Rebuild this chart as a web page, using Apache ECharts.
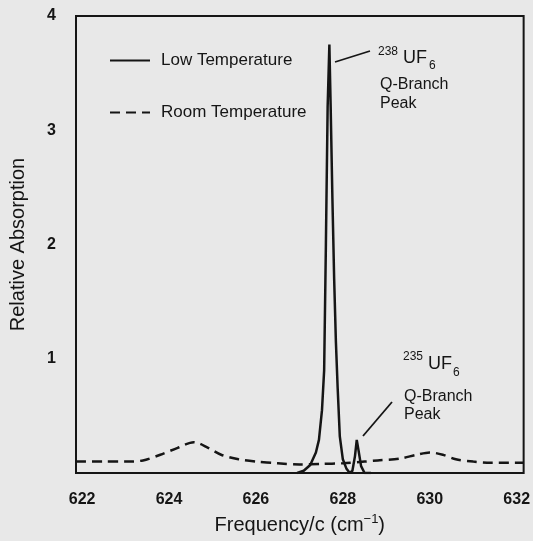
<!DOCTYPE html>
<html>
<head>
<meta charset="utf-8">
<script src="https://cdn.jsdelivr.net/npm/echarts@6/dist/echarts.min.js"></script>
<style>
  html, body { margin: 0; padding: 0; background: #e8e8e8; }
  #chart { width: 533px; height: 541px; }
</style>
</head>
<body>
<div id="chart"></div>
<script>
  // low temperature trace: frequency (cm-1) and relative absorption
  var lowFreq = [626.95, 627.1, 627.25, 627.38, 627.45, 627.52, 627.57, 627.61, 627.65, 627.69,
                 627.72, 627.76, 627.8, 627.84, 627.88, 627.93, 628.0, 628.08, 628.16, 628.22,
                 628.28, 628.32, 628.36, 628.42, 628.5, 628.65]
  var lowAbs = [0, 0.02, 0.07, 0.18, 0.29, 0.55, 0.9, 2.0, 3.2, 3.75,
                3.2, 2.4, 1.7, 1.15, 0.75, 0.32, 0.12, 0.04, 0, 0.02,
                0.15, 0.29, 0.2, 0.06, 0, 0]

  // room temperature trace
  var roomFreq = [621.86, 622.5, 623.0, 623.4, 623.8, 624.2, 624.57, 624.9, 625.2, 625.6,
                  626.0, 626.5, 627.0, 627.5, 628.0, 628.5, 628.8, 629.3, 629.7, 630.0,
                  630.3, 630.6, 631.0, 631.4, 632.16]
  var roomAbs = [0.1, 0.1, 0.1, 0.11, 0.16, 0.22, 0.27, 0.22, 0.16, 0.12,
                 0.1, 0.085, 0.075, 0.08, 0.085, 0.1, 0.11, 0.125, 0.16, 0.18,
                 0.16, 0.12, 0.1, 0.09, 0.09]

  var xTicks = [622, 624, 626, 628, 630, 632]
  var yTicks = [1, 2, 3, 4]

  function pairs(xs, ys) {
    return xs.map(function (x, i) { return [x, ys[i]] })
  }

  var ink = '#151515'
  var font = '"Liberation Sans", Arial, sans-serif'

  var chart = echarts.init(document.getElementById('chart'))

  chart.setOption({
    backgroundColor: '#e8e8e8',
    animation: false,
    textStyle: { fontFamily: font, color: ink },
    grid: {
      left: 74, right: 6, top: 16, bottom: 68,
      show: true, borderColor: ink, borderWidth: 2, backgroundColor: 'transparent'
    },
    legend: {
      orient: 'vertical',
      left: 104, top: 47,
      itemWidth: 40, itemHeight: 14, itemGap: 35,
      itemStyle: { opacity: 0 },
      textStyle: { fontSize: 17, color: ink, padding: [0, 0, 0, 6] },
      data: ['Low Temperature', 'Room Temperature']
    },
    xAxis: {
      type: 'value',
      min: 621.86, max: 632.16,
      name: 'Frequency/c (cm{sup|−1})',
      nameLocation: 'middle', nameGap: 40,
      nameTextStyle: {
        fontSize: 20, color: ink,
        rich: { sup: { fontSize: 13, color: ink, verticalAlign: 'top', padding: [0, 0, 12, 0] } }
      },
      axisLine: { show: false },
      axisTick: { show: false },
      splitLine: { show: false },
      axisLabel: { customValues: xTicks, fontSize: 16, fontWeight: 'bold', color: ink, margin: 19 }
    },
    yAxis: {
      type: 'value',
      min: 0, max: 4, interval: 1,
      name: 'Relative Absorption',
      nameLocation: 'middle', nameGap: 48,
      nameTextStyle: { fontSize: 20, color: ink },
      axisLine: { show: false },
      axisTick: { show: false },
      splitLine: { show: false },
      axisLabel: {
        fontSize: 16, fontWeight: 'bold', color: ink, margin: 20,
        formatter: function (v) { return yTicks.indexOf(v) >= 0 ? String(v) : '' }
      }
    },
    series: [
      {
        name: 'Low Temperature',
        type: 'line',
        symbol: 'none',
        data: pairs(lowFreq, lowAbs),
        lineStyle: { color: ink, width: 2.5 },
        itemStyle: { color: ink },
        z: 3
      },
      {
        name: 'Room Temperature',
        type: 'line',
        symbol: 'none',
        smooth: 0.3,
        data: pairs(roomFreq, roomAbs),
        lineStyle: { color: ink, width: 2.5, type: [10, 6] },
        itemStyle: { color: ink },
        z: 2
      }
    ],
    graphic: [
      // 238UF6 label
      { type: 'line', shape: { x1: 335, y1: 62, x2: 370, y2: 51 }, style: { stroke: ink, lineWidth: 1.8 } },
      { type: 'text', x: 378, y: 46, style: { text: '238', fontSize: 12, fontFamily: font, fill: ink } },
      { type: 'text', x: 403, y: 49, style: { text: 'UF', fontSize: 18, fontFamily: font, fill: ink } },
      { type: 'text', x: 429, y: 60, style: { text: '6', fontSize: 12, fontFamily: font, fill: ink } },
      { type: 'text', x: 380, y: 75, style: { text: 'Q-Branch\nPeak', fontSize: 16, lineHeight: 19, fontFamily: font, fill: ink } },
      // 235UF6 label
      { type: 'line', shape: { x1: 363, y1: 436, x2: 392, y2: 402 }, style: { stroke: ink, lineWidth: 1.8 } },
      { type: 'text', x: 403, y: 351, style: { text: '235', fontSize: 12, fontFamily: font, fill: ink } },
      { type: 'text', x: 428, y: 355, style: { text: 'UF', fontSize: 18, fontFamily: font, fill: ink } },
      { type: 'text', x: 453, y: 367, style: { text: '6', fontSize: 12, fontFamily: font, fill: ink } },
      { type: 'text', x: 404, y: 388, style: { text: 'Q-Branch\nPeak', fontSize: 16, lineHeight: 18, fontFamily: font, fill: ink } }
    ]
  })
</script>
</body>
</html>
